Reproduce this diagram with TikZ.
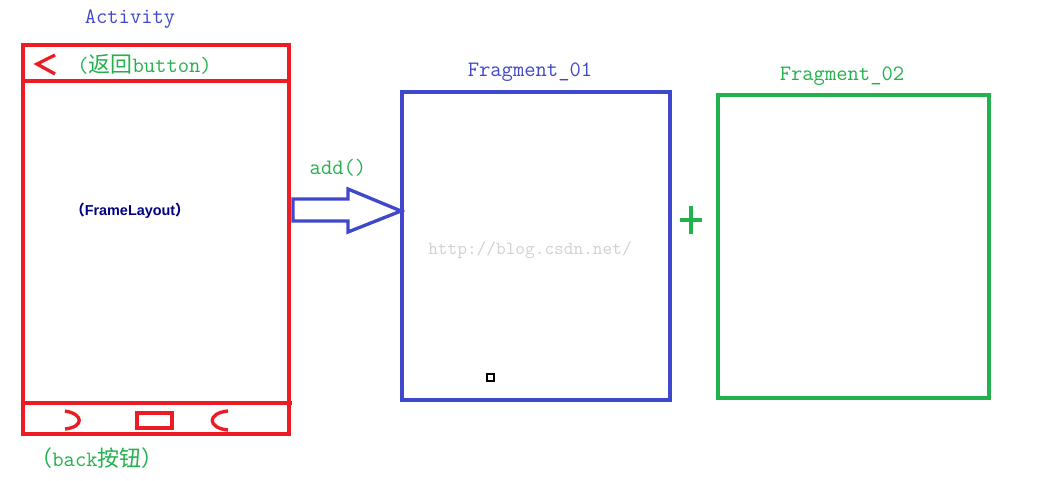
\documentclass[tikz,border=0pt]{standalone}
\usepackage{fontspec}
\newfontfamily\cjk{Noto Sans CJK SC}
\newfontfamily\labelsans{Liberation Sans}
\definecolor{paintred}{RGB}{237,28,36}
\definecolor{paintblue}{RGB}{63,72,204}
\definecolor{paintgreen}{RGB}{34,177,76}
\definecolor{layoutnavy}{RGB}{0,0,128}
\tikzset{
  frame/.style={line width=1.9pt},
  caption/.style={font=\ttfamily\fontsize{12.5}{14}\selectfont, inner sep=0pt},
}
\begin{document}
\begin{tikzpicture}[x=0.02cm, y=-0.02cm]
  \useasboundingbox (0,0) rectangle (1041,480);

  % Activity with title bar and navigation bar
  \node[caption, text=paintblue] (acttitle) at (130,19) {Activity};
  \draw[frame, paintred] (23,45) rectangle (289,434);
  \draw[frame, paintred] (23,81) -- (289,81);
  \draw[frame, paintred] (23,403) -- (292,403);
  \draw[frame, paintred] (55,55) -- (37,64) -- (55,74);
  \node[caption, text=paintgreen, anchor=west] (backbtn) at (77,64) {({\cjk 返回}button)};
  \node[text=layoutnavy, inner sep=0pt, font=\labelsans\bfseries\fontsize{8.2}{10}\selectfont]
    (framelayout) at (130,211) {{\cjk （}FrameLayout{\cjk ）}};

  % Navigation keys
  \draw[frame, paintred] (65,411) .. controls (84,414) and (84,427) .. (65,429);
  \draw[frame, paintred] (137,413) rectangle (172,428);
  \draw[frame, paintred] (228,411) .. controls (207,413) and (207,428) .. (228,430);
  \node[caption, text=paintgreen] (backkey) at (97,458) {{\cjk （}back{\cjk 按钮）}};

  % add() block arrow
  \node[caption, text=paintgreen] (addcall) at (338,168) {add()};
  \coordinate (arrtail) at (293,210);
  \coordinate (arrtip) at (401,211);
  \draw[frame, paintblue, line join=miter]
    (293,199) -- (348,199) -- (348,189) -- (arrtip) -- (348,232) -- (348,221) -- (293,221) -- cycle;

  % Fragment_01
  \node[caption, text=paintblue] (frag1title) at (530,72) {Fragment\_01};
  \draw[frame, paintblue] (402,92) rectangle (670,400);
  \node[text=gray!35, inner sep=0pt, font=\ttfamily\fontsize{10.5}{12}\selectfont]
    (watermark) at (530,250) {http://blog.csdn.net/};
  \draw[line width=0.6pt] (487,374) rectangle (494,381);

  % plus sign
  \draw[frame, paintgreen] (680,220) -- (702,220);
  \draw[frame, paintgreen] (691,206) -- (691,234);

  % Fragment_02
  \node[caption, text=paintgreen] (frag2title) at (842,76) {Fragment\_02};
  \draw[frame, paintgreen] (718,95) rectangle (989,398);
\end{tikzpicture}
\end{document}
